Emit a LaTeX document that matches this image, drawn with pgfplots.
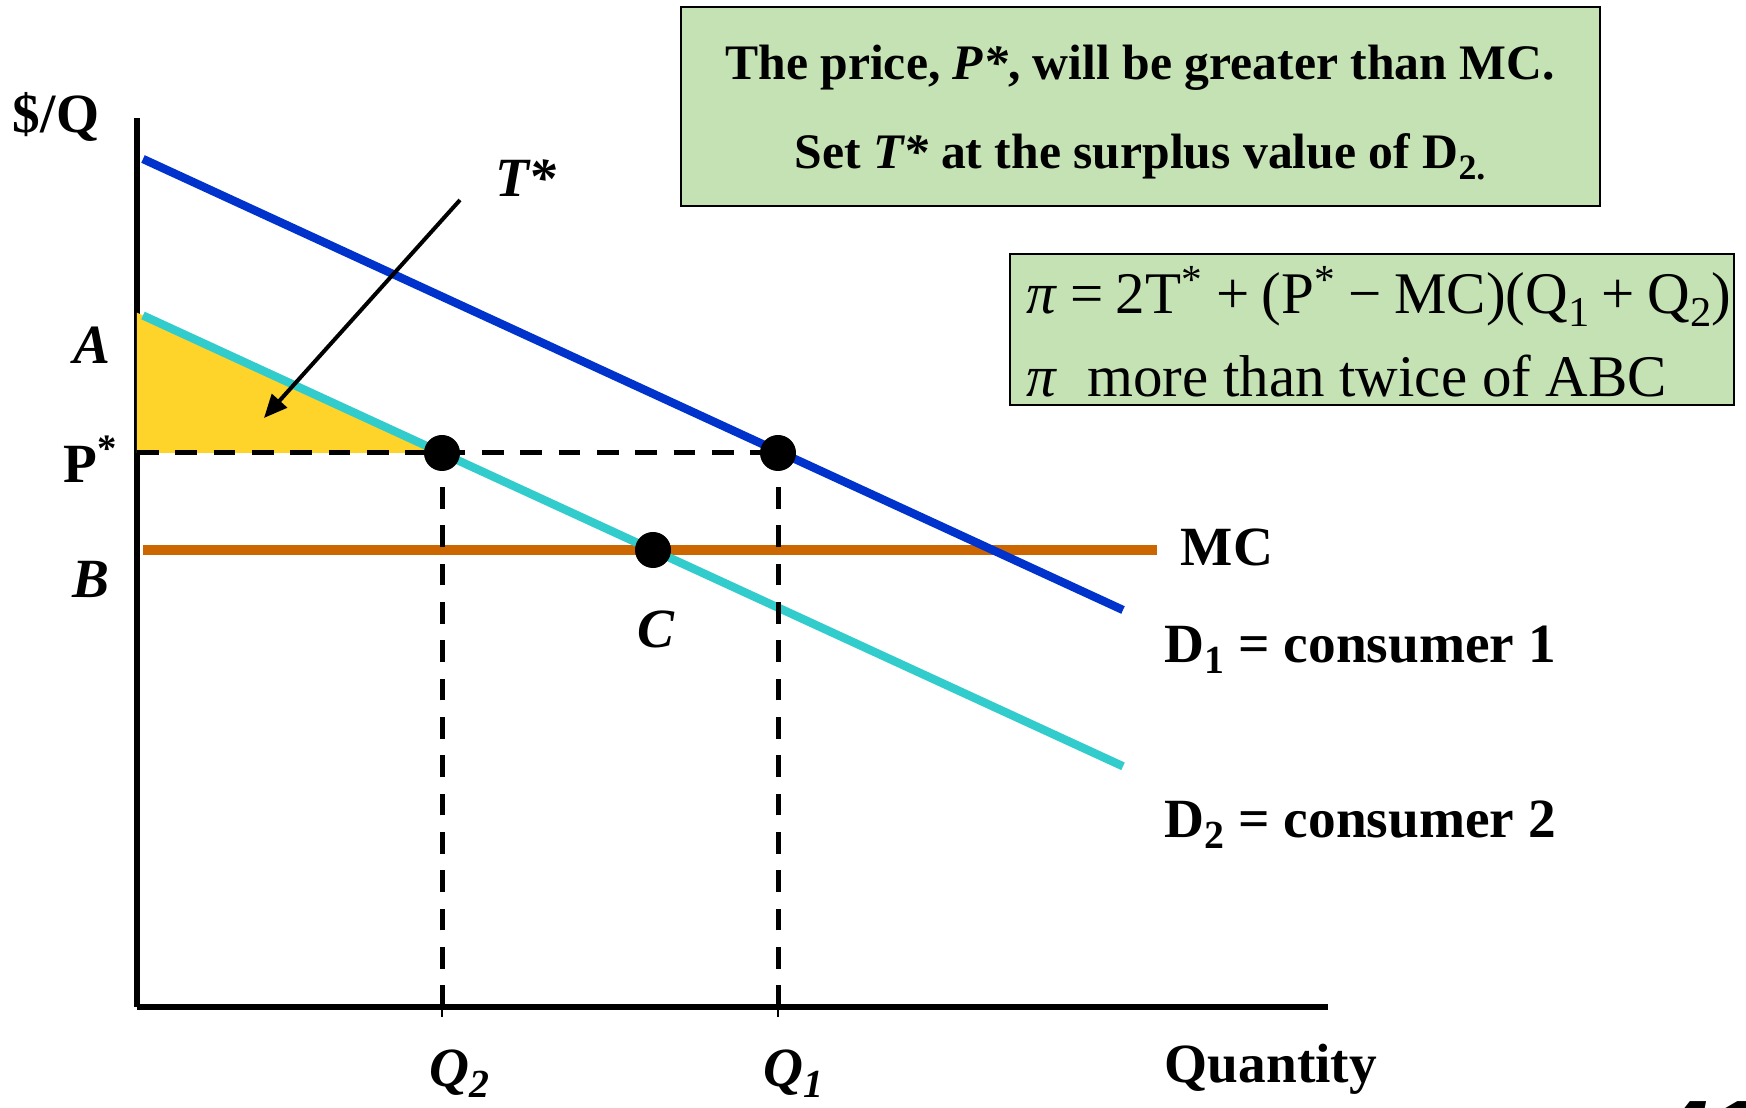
\documentclass[border=0pt]{standalone}
\usepackage{pgfplots}
\pgfplotsset{compat=1.18}
\usepackage{fontspec}
\setmainfont{Liberation Serif}
\newfontfamily\pagefont{Liberation Sans}
\usetikzlibrary{arrows.meta}
\definecolor{dblue}{HTML}{0033CC}
\definecolor{dcyan}{HTML}{33CCCC}
\definecolor{mcorange}{HTML}{CC6600}
\definecolor{tyellow}{HTML}{FFD42A}
\definecolor{boxgreen}{HTML}{C4E2B4}
\newcommand\opsp{\hspace{0.21em}}
% lowered subscript, a bit larger than \textsubscript
\newcommand\lsub[1]{\raisebox{-0.45ex}{\scalebox{0.72}{#1}}}

\begin{document}
\begin{tikzpicture}
\useasboundingbox (-41.1pt,-30pt) rectangle (482.7pt,302.1pt);
\begin{axis}[
  x=30pt, y=30pt, anchor=origin, at={(0,0)},
  xmin=0, xmax=11.91, ymin=0, ymax=8.89,
  axis lines=left,
  axis line style={-, line width=1.6pt},
  xtick={3.05,6.41}, xticklabels={}, ytick=\empty,
  major tick length=6pt, tick align=center,
  tick style={black, line width=0.7pt},
  clip=false,
  every node/.style={inner sep=0pt},
  font=\bfseries\fontsize{16.6}{19}\selectfont,
]
% consumer surplus of D2 above P*
\addplot[fill=tyellow, draw=none] coordinates {(0,6.943) (3.05,5.54) (0,5.54)} -- cycle;

% marginal cost and the two demand curves
\addplot[mcorange, line width=3pt] coordinates {(0.06,4.57) (10.20,4.57)};
\addplot[dcyan, line width=2.5pt] coordinates {(0.06,6.915) (9.86,2.407)};
\addplot[dblue, line width=2.5pt] coordinates {(0.06,8.48) (9.86,3.97)};

% price line and quantities
\addplot[black, line width=1.5pt, dash pattern=on 6.5pt off 5pt] coordinates {(0,5.54) (6.41,5.54)};
\addplot[black, line width=1.5pt, dash pattern=on 6.5pt off 5pt] coordinates {(3.05,0) (3.05,5.54)};
\addplot[black, line width=1.5pt, dash pattern=on 6.5pt off 5pt] coordinates {(6.41,0) (6.41,5.54)};

% points
\addplot[only marks, mark=*, mark size=5.2pt, mark options={fill=black, draw=black}]
  coordinates {(3.05,5.54) (6.41,5.54) (5.16,4.57)};

% arrow pointing at T*
\addplot[black, line width=1.2pt, -{Triangle[length=7pt,width=6pt]}]
  coordinates {(3.23,8.07) (1.27,5.89)};

% text boxes
\draw[fill=boxgreen, line width=0.8pt] (axis cs:5.44,10.00) rectangle (axis cs:14.63,8.01);
\node[anchor=base, font=\bfseries\fontsize{14.9}{18}\selectfont] at (axis cs:10.03,9.27)
  {The price, \textit{P*}, will be greater than MC.};
\node[anchor=base, font=\bfseries\fontsize{14.9}{18}\selectfont] at (axis cs:10.03,8.38)
  {Set \textit{T*} at the surplus value of D\lsub{2.}};

\draw[fill=boxgreen, line width=0.8pt] (axis cs:8.73,7.53) rectangle (axis cs:15.97,6.02);
\node[anchor=base west, font=\mdseries\fontsize{17.7}{20}\selectfont] at (axis cs:8.78,6.93)
  {\textit{π}\opsp=\opsp2T\textsuperscript{*}\opsp+\opsp(P\textsuperscript{*}\opsp−\opsp MC)(Q\lsub{1}\opsp+\opsp Q\lsub{2})};
\node[anchor=base west, font=\mdseries\fontsize{17.7}{20}\selectfont] at (axis cs:8.78,6.10)
  {\textit{π}\ \ more than twice of ABC};

% axis and curve labels
\node at (axis cs:-0.81,8.90) {\$/Q};
\node at (axis cs:3.89,8.29) {\textit{T*}};
\node at (axis cs:-0.45,6.62) {\textit{A}};
\node at (axis cs:-0.46,5.48) {P\textsuperscript{*}};
\node at (axis cs:-0.46,4.28) {\textit{B}};
\node at (axis cs:5.19,3.78) {\textit{C}};
\node[anchor=base west] at (axis cs:10.32,4.41) {MC};
\node[anchor=base west] at (axis cs:10.16,3.45) {D\lsub{1} = consumer 1};
\node[anchor=base west] at (axis cs:10.16,1.70) {D\lsub{2} = consumer 2};
\node[anchor=base west] at (axis cs:10.16,-0.75) {Quantity};
\node[anchor=base] at (axis cs:3.22,-0.79) {\textit{Q\lsub{2}}};
\node[anchor=base] at (axis cs:6.56,-0.79) {\textit{Q\lsub{1}}};

% slide number, running off the bottom edge
\node[anchor=north west, font=\pagefont\bfseries\itshape\fontsize{27}{30}\selectfont]
  at (axis cs:15.10,-0.83) {41};
\end{axis}
\end{tikzpicture}
\end{document}
